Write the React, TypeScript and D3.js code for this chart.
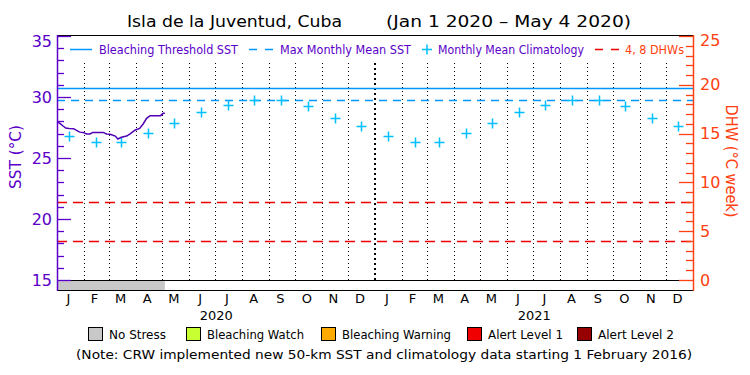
import React, { useEffect, useRef } from "react";
import * as d3 from "d3";

// daily SST (at the visible turning points)
const sstDates = [
  "2020-01-01", "2020-01-03", "2020-01-05", "2020-01-08", "2020-01-11", "2020-01-15",
  "2020-01-20", "2020-01-24", "2020-01-27", "2020-01-31", "2020-02-04", "2020-02-08",
  "2020-02-11", "2020-02-17", "2020-02-23", "2020-02-27", "2020-03-02", "2020-03-08",
  "2020-03-11", "2020-03-15", "2020-03-21", "2020-03-25", "2020-03-31", "2020-04-05",
  "2020-04-09", "2020-04-13", "2020-04-17", "2020-04-22", "2020-04-29", "2020-05-02",
  "2020-05-04",
];
const sstValues = [
  27.98, 27.9, 27.8, 27.62, 27.45, 27.42,
  27.4, 27.24, 27.12, 27.1, 26.97, 26.97,
  27.1, 27.1, 27.1, 26.97, 26.94, 26.8,
  26.56, 26.7, 26.8, 26.97, 27.3, 27.43,
  27.79, 28.25, 28.47, 28.47, 28.47, 28.66,
  28.66,
];

const monthLabels = ["J", "F", "M", "A", "M", "J", "J", "A", "S", "O", "N", "D"];
const years = [2020, 2021];
const climatology = [26.8, 26.34, 26.34, 27.02, 27.84, 28.75, 29.34, 29.75, 29.75, 29.26, 28.3, 27.62];
const bleachingThreshold = 30.7;
const maxMonthlyMean = 29.72;
const dhwLevels = [4, 8];
const sstTicks = [15, 20, 25, 30, 35];
const dhwTicks = [0, 5, 10, 15, 20, 25];
const stressEnd = "2020-05-04";

const stressNames = ["No Stress", "Bleaching Watch", "Bleaching Warning", "Alert Level 1", "Alert Level 2"];
const stressColors = ["#c8c8c8", "#c8ff32", "#ffaa00", "#f00000", "#960000"];

const FONT = "DejaVu Sans";
const PURPLE = "#5a00c8";
const ORANGE = "#ff4010";
const BLUE = "#0096ff";
const CYAN = "#00c0ff";
const RED = "#f00000";

const App: React.FC = () => {
  const ref = useRef<SVGSVGElement>(null);

  useEffect(() => {
    const svg = d3.select(ref.current);
    svg.selectAll("*").remove();

    const left = 57, right = 693, top = 36, bottom = 280, stripBottom = 290;
    const parse = d3.timeParse("%Y-%m-%d");
    const px = (v: number) => Math.round(v) + 0.5;

    const x = d3.scaleTime()
      .domain([new Date(2020, 0, 1), new Date(2022, 0, 1)])
      .range([left, right]);
    const ySst = d3.scaleLinear().domain([15, 35]).range([bottom, top]);
    const yDhw = d3.scaleLinear().domain([0, 25]).range([bottom, top]);

    const text = (g: any, str: string, tx: number, ty: number, size: number, color: string, len?: number) => {
      const t = g.append("text")
        .attr("x", tx).attr("y", ty)
        .attr("font-family", FONT).attr("font-size", size)
        .attr("fill", color).attr("dominant-baseline", "central")
        .text(str);
      if (len) t.attr("textLength", len).attr("lengthAdjust", "spacingAndGlyphs");
      return t;
    };

    svg.append("rect").attr("width", 750).attr("height", 375).attr("fill", "#fff");

    // stress strip
    svg.append("rect")
      .attr("x", left).attr("y", bottom)
      .attr("width", x(parse(stressEnd)!) - left).attr("height", stripBottom - bottom)
      .attr("fill", stressColors[0]);

    // month grid
    const monthStarts = d3.timeMonth.range(new Date(2020, 1, 1), new Date(2022, 0, 1));
    monthStarts.forEach((d) => {
      const yearLine = d.getMonth() === 0;
      const gx = yearLine ? Math.round(x(d)) : px(x(d));
      svg.append("line")
        .attr("x1", gx).attr("x2", gx)
        .attr("y1", 63).attr("y2", bottom)
        .attr("stroke", "#000")
        .attr("stroke-width", yearLine ? 2 : 1)
        .attr("stroke-dasharray", yearLine ? "2,3" : "1,3")
        .attr("shape-rendering", "crispEdges");
    });

    // reference lines
    svg.append("line")
      .attr("x1", left).attr("x2", right)
      .attr("y1", px(ySst(bleachingThreshold))).attr("y2", px(ySst(bleachingThreshold)))
      .attr("stroke", BLUE).attr("stroke-width", 1.5);
    svg.append("line")
      .attr("x1", left).attr("x2", right)
      .attr("y1", px(ySst(maxMonthlyMean))).attr("y2", px(ySst(maxMonthlyMean)))
      .attr("stroke", BLUE).attr("stroke-width", 1.5).attr("stroke-dasharray", "8,6");
    dhwLevels.forEach((v) => {
      svg.append("line")
        .attr("x1", left).attr("x2", right)
        .attr("y1", px(yDhw(v))).attr("y2", px(yDhw(v)))
        .attr("stroke", RED).attr("stroke-width", 1.5).attr("stroke-dasharray", "10,6");
    });

    // climatology crosses
    years.forEach((yr) => {
      climatology.forEach((v, m) => {
        const cx = px(x(new Date(yr, m, 15)));
        const cy = px(ySst(v));
        svg.append("path")
          .attr("d", `M${cx - 5},${cy}H${cx + 5}M${cx},${cy - 5}V${cy + 5}`)
          .attr("stroke", CYAN).attr("stroke-width", 1.5).attr("fill", "none");
      });
    });

    // SST line
    const sst = sstDates.map((d, i) => ({ date: parse(d)!, value: sstValues[i] }));
    const line = d3.line<{ date: Date; value: number }>()
      .x((d) => x(d.date))
      .y((d) => ySst(d.value));
    svg.append("path")
      .datum(sst)
      .attr("fill", "none")
      .attr("stroke", "#5000b4")
      .attr("stroke-width", 1.5)
      .attr("d", line);

    // frame
    [top - 1, bottom, stripBottom].forEach((yy) => {
      svg.append("line")
        .attr("x1", left).attr("x2", right).attr("y1", yy + 0.5).attr("y2", yy + 0.5)
        .attr("stroke", "#000").attr("stroke-width", 1.2);
    });

    // left axis
    svg.append("line")
      .attr("x1", left + 0.5).attr("x2", left + 0.5).attr("y1", top - 1).attr("y2", stripBottom + 1)
      .attr("stroke", PURPLE).attr("stroke-width", 1.5);
    d3.range(15, 36).forEach((v) => {
      const major = v % 5 === 0;
      svg.append("line")
        .attr("x1", left).attr("x2", left + (major ? 14 : 7))
        .attr("y1", px(ySst(v))).attr("y2", px(ySst(v)))
        .attr("stroke", PURPLE).attr("stroke-width", 1.3);
    });
    sstTicks.forEach((v) => {
      text(svg, String(v), 52, Math.max(ySst(v), 41), 16, PURPLE).attr("text-anchor", "end");
    });
    text(svg, "SST (\u00b0C)", 0, 0, 15, PURPLE, 64)
      .attr("text-anchor", "middle")
      .attr("transform", "translate(16,157) rotate(-90)");

    // right axis
    svg.append("line")
      .attr("x1", right + 0.5).attr("x2", right + 0.5).attr("y1", top - 1).attr("y2", stripBottom + 1)
      .attr("stroke", ORANGE).attr("stroke-width", 1.5);
    d3.range(0, 26).forEach((v) => {
      const major = v % 5 === 0;
      svg.append("line")
        .attr("x1", right).attr("x2", right - (major ? 14 : 7))
        .attr("y1", px(yDhw(v))).attr("y2", px(yDhw(v)))
        .attr("stroke", ORANGE).attr("stroke-width", 1.3);
    });
    dhwTicks.forEach((v) => {
      text(svg, String(v), 700, Math.max(yDhw(v), 40), 16, ORANGE);
    });
    text(svg, "DHW (\u00b0C week)", 0, 0, 15, ORANGE, 113)
      .attr("text-anchor", "middle")
      .attr("transform", "translate(731,161) rotate(90)");

    // x labels
    years.forEach((yr) => {
      monthLabels.forEach((m, i) => {
        const mid = x(new Date(yr, i, 1)) + (x(new Date(yr, i + 1, 1)) - x(new Date(yr, i, 1))) / 2;
        text(svg, m, mid - 2, 298, 13, "#000").attr("text-anchor", "middle");
      });
      const ymid = (x(new Date(yr, 0, 1)) + x(new Date(yr + 1, 0, 1))) / 2;
      text(svg, String(yr), ymid, 315, 13, "#000", 33).attr("text-anchor", "middle");
    });

    // title
    text(svg, "Isla de la Juventud, Cuba", 127, 21, 16, "#000", 215);
    text(svg, "(Jan 1 2020 \u2013 May 4 2020)", 386, 21, 16, "#000", 245);

    // top legend
    const ly = 49.5;
    svg.append("line").attr("x1", 70).attr("x2", 92).attr("y1", ly).attr("y2", ly)
      .attr("stroke", BLUE).attr("stroke-width", 1.5);
    text(svg, "Bleaching Threshold SST", 99, ly, 12, PURPLE, 139);
    svg.append("line").attr("x1", 249).attr("x2", 273).attr("y1", ly).attr("y2", ly)
      .attr("stroke", BLUE).attr("stroke-width", 1.5).attr("stroke-dasharray", "8,8");
    text(svg, "Max Monthly Mean SST", 280, ly, 12, PURPLE, 131);
    svg.append("path").attr("d", `M422,${ly}H432M427,${ly - 5}V${ly + 5}`)
      .attr("stroke", CYAN).attr("stroke-width", 1.5);
    text(svg, "Monthly Mean Climatology", 438, ly, 12, PURPLE, 146);
    svg.append("line").attr("x1", 595).attr("x2", 619).attr("y1", ly).attr("y2", ly)
      .attr("stroke", RED).attr("stroke-width", 1.5).attr("stroke-dasharray", "8,8");
    text(svg, "4, 8 DHWs", 625, ly, 12, ORANGE, 59);

    // bottom legend
    const boxX = [88, 186, 321, 467, 577];
    const nameLen = [57, 97, 109, 75, 76];
    stressNames.forEach((n, i) => {
      svg.append("rect")
        .attr("x", boxX[i] + 0.5).attr("y", 327.5).attr("width", 14).attr("height", 13)
        .attr("fill", stressColors[i]).attr("stroke", "#000").attr("stroke-width", 1);
      text(svg, n, boxX[i] + 21, 334, 13, "#000", nameLen[i]);
    });
    text(svg, "(Note: CRW implemented new 50-km SST and climatology data starting 1 February 2016)",
      76, 354, 13, "#000", 616);
  }, []);

  return (
    <div style={{ position: "fixed", left: 0, top: 0 }}>
      <svg ref={ref} width={750} height={375} style={{ display: "block" }}></svg>
    </div>
  );
};

export default App;
